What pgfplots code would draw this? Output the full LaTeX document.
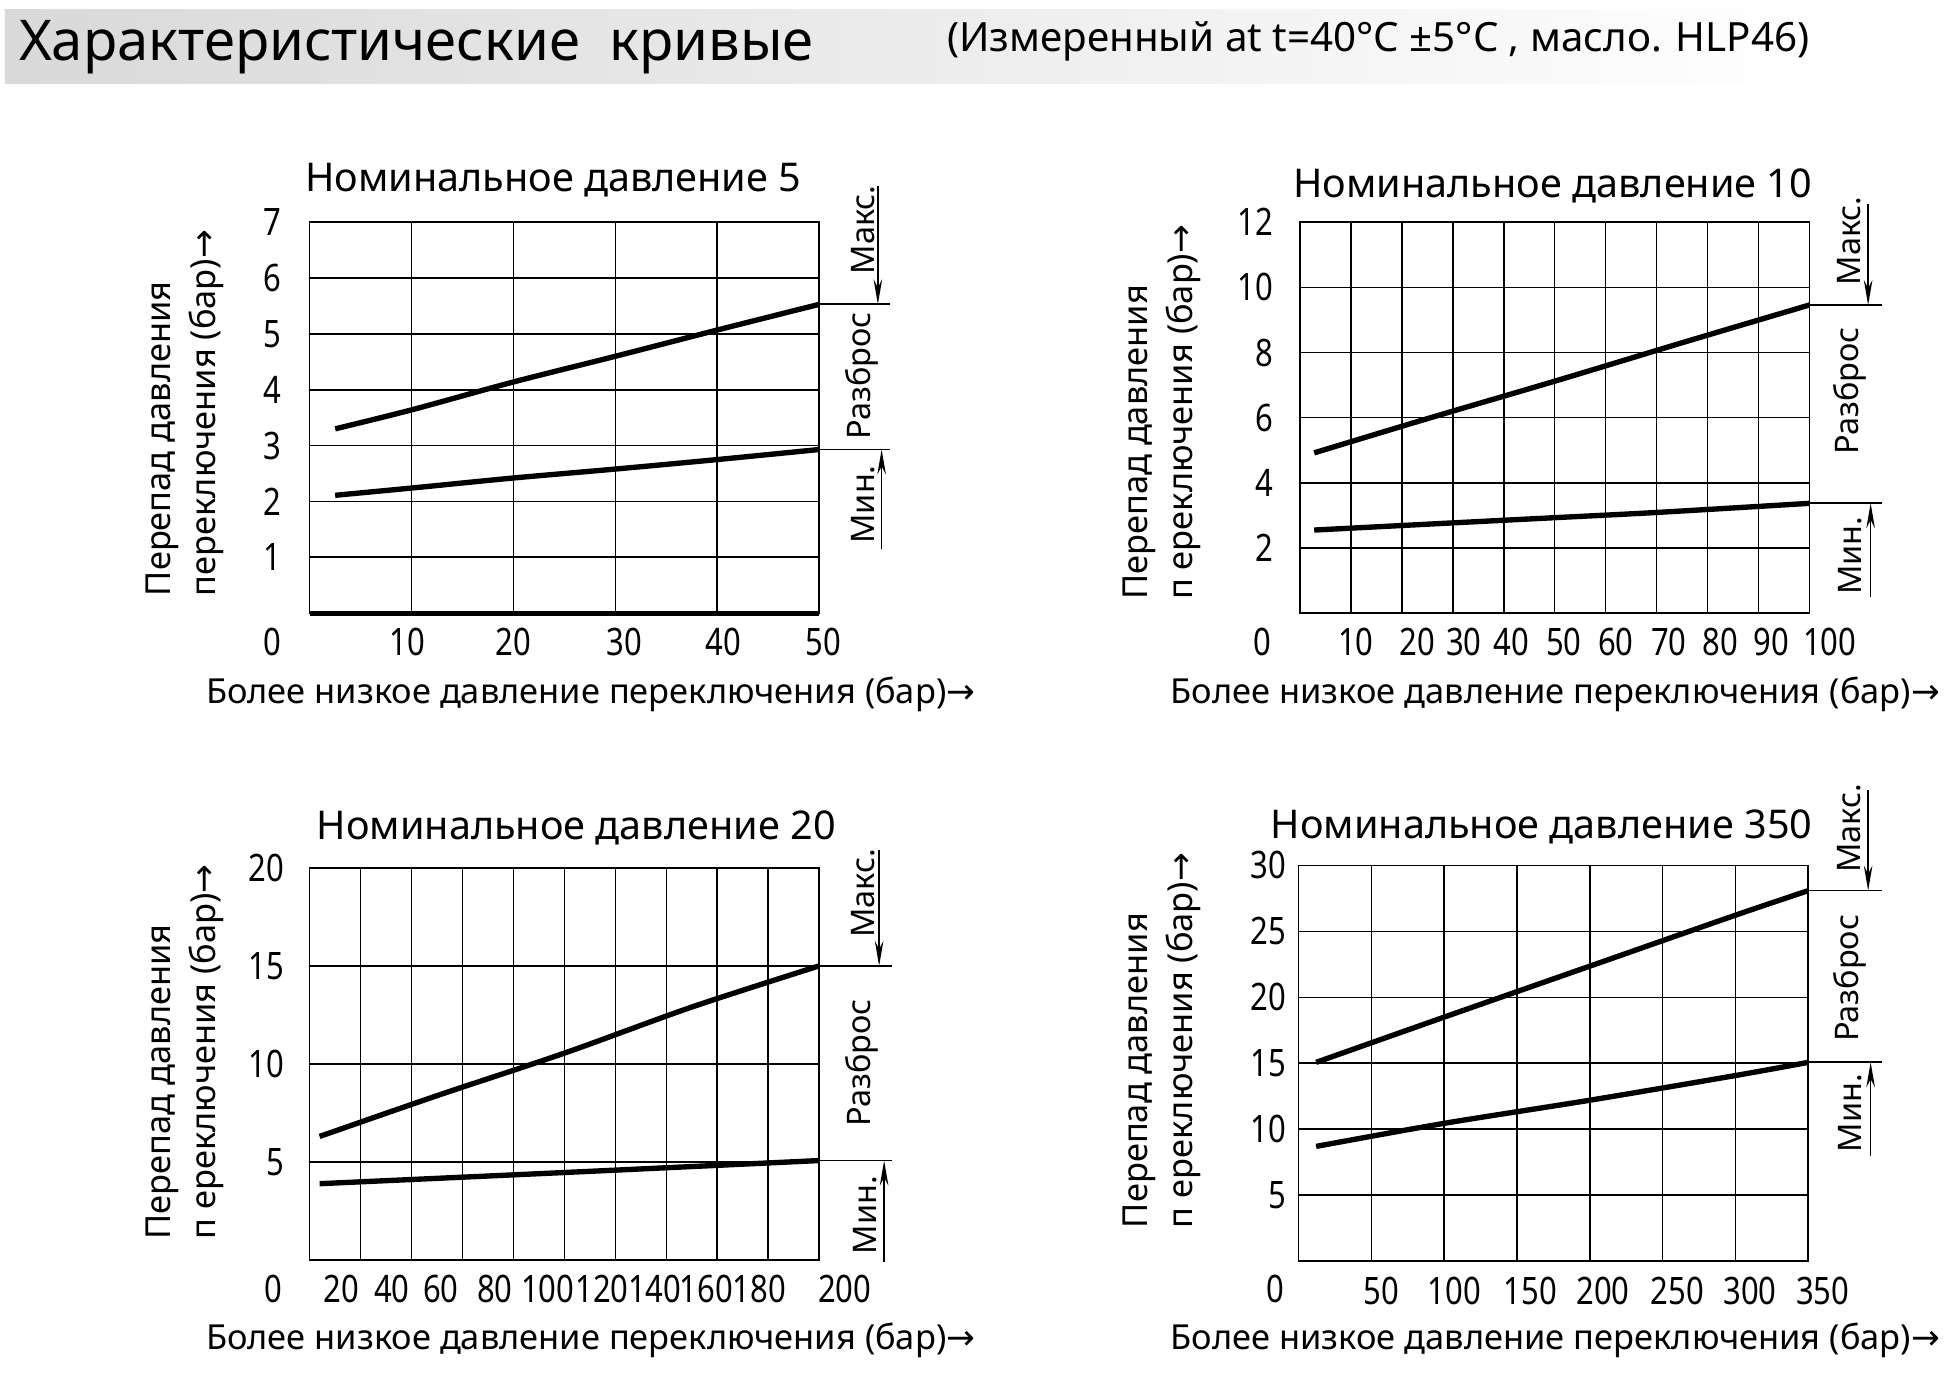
\documentclass[border=0pt]{standalone}
\usepackage{fontspec}
\setmainfont{Noto Sans}
\newfontfamily\arrowfont{DejaVu Sans}
\newfontfamily\tickfam[FakeStretch=0.82]{Noto Sans}
\usepackage{pgfplots}
\pgfplotsset{compat=1.18}
\usetikzlibrary{arrows.meta}
\newcommand{\ar}{{\arrowfont →}}
\newcommand{\labfont}{\fontsize{9.65}{11}\selectfont}
\newcommand{\annfont}{\fontsize{9.1}{11}\selectfont}
\newcommand{\ptfont}{\fontsize{11.1}{13}\selectfont}
\newcommand{\tkfont}{\tickfam\fontsize{10.6}{12}\selectfont}
\pgfplotsset{
 myaxis/.style={
  scale only axis, width=142.8pt, anchor=south west,
  axis line style={line width=0.45pt},
  major tick length=0pt, minor tick length=0pt,
  xminorgrids=true, xmajorgrids=false, ymajorgrids=true,
  minor grid style={black,line width=0.45pt},
  major grid style={black,line width=0.45pt},
  ticklabel style={font=\tkfont},
  xticklabel style={yshift=-0.8pt},
  clip=false,
 },
 curve/.style={black, line width=1.5pt, smooth, no marks},
}
\begin{document}
\begin{tikzpicture}
\path[use as bounding box] (0,0) rectangle (548.8pt,384.65pt);
% ---------- plot 1
\begin{axis}[myaxis, at={(86.8pt,212.8pt)}, height=109.55pt,
 xmin=0,xmax=50,ymin=0,ymax=7,
 xtick={9.6,20,30.9,40.6,50}, xticklabels={10,20,30,40,\kern2.3pt 50},
 minor xtick={10,20,30,40},
 ytick={1,2,3,4,5,6,7}, yticklabels={1,2,3,4,5,6,7},
 yticklabel style={xshift=-4.3pt}]
\addplot[curve] coordinates {(2.5,3.30) (10,3.64) (20,4.14) (30,4.60) (40,5.07) (50,5.53)};
\addplot[curve] coordinates {(2.5,2.11) (10,2.24) (20,2.42) (30,2.58) (40,2.75) (50,2.93)};
\draw[line width=1.45pt] (rel axis cs:0,0) -- (rel axis cs:1,0);
\end{axis}
% ---------- plot 2
\begin{axis}[myaxis, at={(364.35pt,212.8pt)}, height=109.55pt,
 xmin=0,xmax=100,ymin=0,ymax=12,
 xtick={11,23,32.2,41.5,51.8,62,72.4,82.5,92.6,100},
 xticklabels={10,20,30,40,50,60,70,80,90,\kern11.4pt 100},
 minor xtick={10,20,30,40,50,60,70,80,90},
 ytick={2,4,6,8,10,12}, yticklabels={2,4,6,8,10,12},
 yticklabel style={xshift=-4pt}]
\addplot[curve] coordinates {(2.8,4.92) (25,5.97) (50,7.12) (75,8.30) (100,9.46)};
\addplot[curve] coordinates {(2.8,2.55) (30,2.77) (50,2.93) (70,3.09) (100,3.37)};
\end{axis}
% ---------- plot 3
\begin{axis}[myaxis, at={(86.8pt,31.5pt)}, height=109.9pt,
 xmin=0,xmax=200,ymin=0,ymax=20,
 xtick={12.3,32.3,51.5,72.7,93.5,114.8,135.5,155.8,176.5,200},
 xticklabels={20,40,60,80,100,120,140,160,180,\kern14.3pt 200},
 minor xtick={20,40,60,80,100,120,140,160,180},
 ytick={5,10,15,20}, yticklabels={5,10,15,20},
 yticklabel style={xshift=-3.6pt}]
\addplot[curve] coordinates {(3.9,6.3) (50,8.38) (100,10.55) (150,12.9) (200,15.0)};
\addplot[curve] coordinates {(3.9,3.89) (100,4.46) (200,5.07)};
\end{axis}
% ---------- plot 4
\begin{axis}[myaxis, at={(364pt,31.15pt)}, height=110.95pt,
 xmin=0,xmax=350,ymin=0,ymax=30,
 xtick={57,107,159,209,260,310,350},
 xticklabels={50,100,150,200,250,300,\kern8.2pt 350},
 minor xtick={50,100,150,200,250,300},
 ytick={5,10,15,20,25,30}, yticklabels={5,10,15,20,25,30},
 yticklabel style={xshift=0pt}]
\addplot[curve] coordinates {(12,15.07) (100,18.5) (200,22.36) (300,26.22) (350,28.08)};
\addplot[curve] coordinates {(12,8.7) (100,10.45) (200,12.2) (300,14.07) (350,15.07)};
\end{axis}
% ---------- annotations in reference pixel units
\begin{scope}[x=0.35pt,y=-0.35pt,shift={(0pt,384.65pt)}]
\shade[left color=gray!30, right color=white] (4,8) rectangle (1450,67);
\node[anchor=west, inner sep=0, font=\fontsize{15.75}{18}\selectfont] at (15,38) {Характеристические\ \ кривые};
\node[anchor=west, inner sep=0, font=\fontsize{11.3}{13}\selectfont] at (758,33) {(Измеренный at t=40°C ±5°C , масло. HLP46)};
% titles
\node[font=\ptfont] at (443,144) {Номинальное давление 5};
\node[font=\ptfont] at (1243.5,149) {Номинальное давление 10};
\node[font=\ptfont] at (461.5,663) {Номинальное давление 20};
\node[font=\ptfont] at (1234.5,662) {Номинальное давление 350};
% x labels
\node[font=\labfont] at (473,556) {Более низкое давление переключения (бар)\ar};
\node[font=\labfont] at (1245.5,556) {Более низкое давление переключения (бар)\ar};
\node[font=\labfont] at (473,1073) {Более низкое давление переключения (бар)\ar};
\node[font=\labfont] at (1245.5,1073) {Более низкое давление переключения (бар)\ar};
% y labels
\node[rotate=90, anchor=west, inner sep=0, font=\labfont] at (130,478) {Перепад давления};
\node[rotate=90, anchor=west, inner sep=0, font=\labfont] at (165,478) {переключения (бар)\ar};
\node[rotate=90, anchor=west, inner sep=0, font=\labfont] at (912,481) {Перепад давления};
\node[rotate=90, anchor=west, inner sep=0, font=\labfont] at (948,481) {п ереключения (бар)\ar};
\node[rotate=90, anchor=west, inner sep=0, font=\labfont] at (130,993) {Перепад давления};
\node[rotate=90, anchor=west, inner sep=0, font=\labfont] at (165,993) {п ереключения (бар)\ar};
\node[rotate=90, anchor=west, inner sep=0, font=\labfont] at (912,984) {Перепад давления};
\node[rotate=90, anchor=west, inner sep=0, font=\labfont] at (948,984) {п ереключения (бар)\ar};
% zero labels
\node[font=\tkfont] at (218,514) {0};
\node[font=\tkfont] at (1011,514) {0};
\node[font=\tkfont] at (219,1032) {0};
\node[font=\tkfont] at (1021,1032) {0};
% range annotations
\tikzset{ann/.style={line width=0.45pt}, arr/.style={line width=0.45pt,-{Stealth[length=7pt,width=2.4pt]}}}
% plot 1
\draw[ann] (656,243.7) -- (713,243.7);
\draw[ann] (656,360) -- (713,360);
\draw[arr] (703,149) -- (703,243.7);
\draw[arr] (706,440) -- (706,360);
\node[rotate=90, anchor=base, inner sep=0, font=\annfont] at (700,184) {Макс.};
\node[rotate=90, anchor=base, inner sep=0, font=\annfont] at (697,301) {Разброс};
\node[rotate=90, anchor=base, inner sep=0, font=\annfont] at (700,404) {Мин.};
% plot 2
\draw[ann] (1449,244.3) -- (1507,244.3);
\draw[ann] (1449,403) -- (1507,403);
\draw[arr] (1496,163) -- (1496,244.3);
\draw[arr] (1498,478) -- (1498,403);
\node[rotate=90, anchor=base, inner sep=0, font=\annfont] at (1490,193) {Макс.};
\node[rotate=90, anchor=base, inner sep=0, font=\annfont] at (1488,313) {Разброс};
\node[rotate=90, anchor=base, inner sep=0, font=\annfont] at (1491,445) {Мин.};
% plot 3
\draw[ann] (656,773.5) -- (714,773.5);
\draw[ann] (656,929.4) -- (714,929.4);
\draw[arr] (704,681) -- (704,773.5);
\draw[arr] (708,1011) -- (708,929.4);
\node[rotate=90, anchor=base, inner sep=0, font=\annfont] at (700,715.5) {Макс.};
\node[rotate=90, anchor=base, inner sep=0, font=\annfont] at (697,851) {Разброс};
\node[rotate=90, anchor=base, inner sep=0, font=\annfont] at (702,973) {Мин.};
% plot 4
\draw[ann] (1448,713.2) -- (1507,713.2);
\draw[ann] (1448,850.7) -- (1507,850.7);
\draw[arr] (1496,633) -- (1496,713.2);
\draw[arr] (1498,926) -- (1498,850.7);
\node[rotate=90, anchor=base, inner sep=0, font=\annfont] at (1490,663.5) {Макс.};
\node[rotate=90, anchor=base, inner sep=0, font=\annfont] at (1488,783.5) {Разброс};
\node[rotate=90, anchor=base, inner sep=0, font=\annfont] at (1491,891.5) {Мин.};
\end{scope}
\end{tikzpicture}
\end{document}
